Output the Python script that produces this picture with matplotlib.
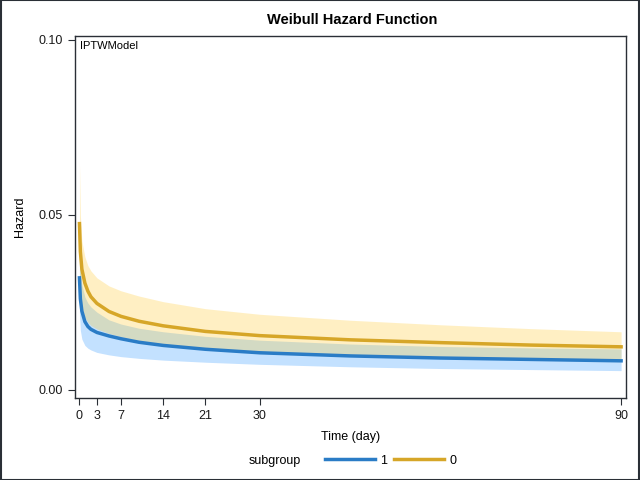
import numpy as np
import matplotlib.pyplot as plt
from matplotlib.lines import Line2D

plt.rcParams['font.family'] = ['Liberation Sans', 'DejaVu Sans']

# time points (days) and estimated hazard values
time = [0.1, 0.25, 0.5, 1, 1.5, 2, 3, 5, 7, 10, 14, 21, 30, 45, 60, 75, 90]

haz_0 = [0.0475, 0.0395, 0.0345, 0.0305, 0.0282, 0.0266, 0.0247, 0.0224, 0.0210,
         0.0196, 0.0183, 0.0167, 0.0155, 0.0143, 0.0135, 0.0128, 0.0123]
upper_0 = [0.065, 0.050, 0.0425, 0.038, 0.0355, 0.034, 0.032, 0.0297, 0.0283,
           0.0268, 0.0252, 0.0232, 0.0216, 0.0199, 0.0186, 0.0175, 0.0166]
lower_0 = [0.033, 0.027, 0.0235, 0.0207, 0.0193, 0.0184, 0.0174, 0.0161, 0.0152,
           0.0141, 0.0130, 0.0117, 0.0106, 0.0097, 0.0092, 0.0089, 0.0086]

haz_1 = [0.032, 0.026, 0.0225, 0.0195, 0.0181, 0.0173, 0.0164, 0.0154, 0.0146,
         0.0136, 0.0127, 0.0116, 0.0106, 0.0097, 0.0091, 0.0087, 0.0083]
upper_1 = [0.040, 0.034, 0.030, 0.0265, 0.0248, 0.0237, 0.0222, 0.0200, 0.0188,
           0.0176, 0.0166, 0.0153, 0.0142, 0.0131, 0.0124, 0.0120, 0.0117]
lower_1 = [0.022, 0.017, 0.0145, 0.0127, 0.0119, 0.0114, 0.0107, 0.0100, 0.0095,
           0.0090, 0.0085, 0.0079, 0.0073, 0.0066, 0.0061, 0.0058, 0.0055]

xticks = [0, 3, 7, 14, 21, 30, 90]
yticks = [0.0, 0.05, 0.10]
ylabels = ["0.00", "0.05", "0.10"]

col1 = "#2A7CC6"
col0 = "#D6A628"

fig = plt.figure(figsize=(6.4, 4.8), dpi=100)
fig.patches.append(plt.Rectangle((0.001, 0.001), 0.998, 0.998, transform=fig.transFigure,
                                 fill=False, edgecolor="#2a2f36", linewidth=1.5))
ax = fig.add_axes([0.117, 0.171, 0.861, 0.754])

ax.fill_between(time, lower_1, upper_1, color="#C3E1FF", linewidth=0)
ax.fill_between(time, lower_0, upper_0, color="#FFC929", alpha=0.28, linewidth=0)
ax.plot(time, haz_1, color=col1, linewidth=2.5)
ax.plot(time, haz_0, color=col0, linewidth=2.5)

ax.set_xlim(-0.66, 90.8)
ax.set_ylim(-0.0023, 0.1011)
ax.set_xticks(xticks)
ax.set_yticks(yticks)
ax.set_yticklabels(ylabels)
ax.tick_params(labelsize=9, color="#2a2f36", length=5, labelcolor="#1a1a1a")
for s in ax.spines.values():
    s.set_color("#2a2f36")
    s.set_linewidth(1)

ax.set_xlabel("Time (day)", fontsize=9, labelpad=7)
ax.set_ylabel("Hazard", fontsize=9, labelpad=9)
ax.text(0.01, 0.985, "IPTWModel", transform=ax.transAxes, fontsize=8, va="top", ha="left")
fig.text(0.55, 0.958, "Weibull Hazard Function", fontsize=10.5, fontweight="bold", ha="center", va="center")

fig.text(0.388, 0.04, "subgroup", fontsize=9, ha="left", va="center")
handles = [Line2D([], [], color=col1, linewidth=2.5), Line2D([], [], color=col0, linewidth=2.5)]
fig.legend(handles, ["1", "0"], loc="center left", bbox_to_anchor=(0.49, 0.04), ncol=2,
           frameon=False, fontsize=9, handlelength=4.0, columnspacing=0.6, handletextpad=0.4)

fig.savefig("out.png", dpi=100)
